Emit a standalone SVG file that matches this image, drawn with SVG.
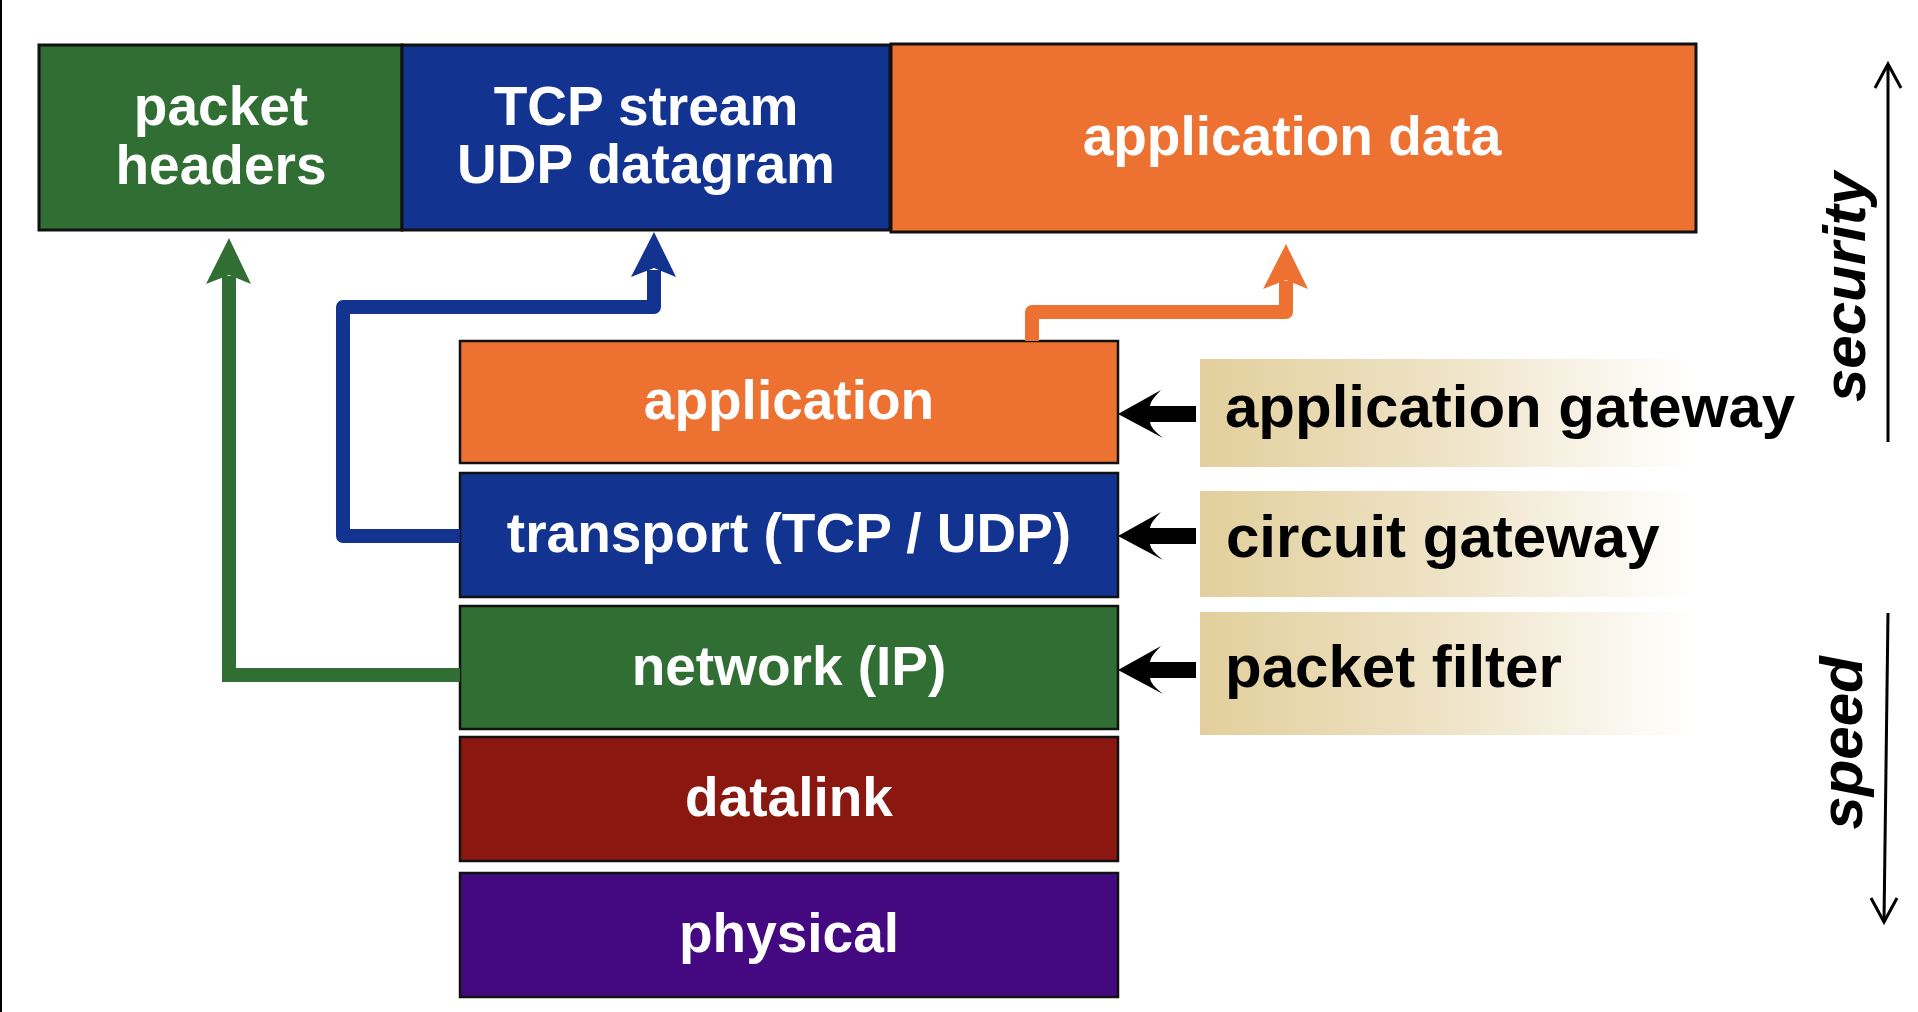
<svg xmlns="http://www.w3.org/2000/svg" width="1918" height="1012" viewBox="0 0 1918 1012">
<defs>
<linearGradient id="tan" x1="0" y1="0" x2="1" y2="0">
<stop offset="0" stop-color="#e2cf9c"/>
<stop offset="0.45" stop-color="#eee2c4"/>
<stop offset="0.95" stop-color="#ffffff"/>
</linearGradient>
<style>
.box{stroke:#111;stroke-width:3}
.layer{stroke:#111;stroke-width:2.5}
.wt{font-family:"Liberation Sans",Arial,sans-serif;font-weight:bold;font-size:55px;fill:#fff;text-anchor:middle}
.bt{font-family:"Liberation Sans",Arial,sans-serif;font-weight:bold;font-size:60px;fill:#000}
.it{font-family:"Liberation Sans",Arial,sans-serif;font-weight:bold;font-style:italic;font-size:60px;fill:#000;text-anchor:middle}
.conn{fill:none;stroke-width:14}
</style>
</defs>
<rect width="1918" height="1012" fill="#fff"/>
<line x1="1" y1="0" x2="1" y2="1012" stroke="#000" stroke-width="2"/>

<g id="packet-headers">
<rect class="box" x="39" y="45" width="363" height="185" fill="#306e34"/>
<text class="wt" x="221" y="125">packet</text>
<text class="wt" x="221" y="184">headers</text>
</g>
<g id="tcp-udp">
<rect class="box" x="402" y="45" width="488" height="185" fill="#133391"/>
<text class="wt" x="646" y="125">TCP stream</text>
<text class="wt" x="646" y="183">UDP datagram</text>
</g>
<g id="application-data">
<rect class="box" x="891" y="44" width="805" height="188" fill="#ed7130"/>
<text class="wt" x="1292" y="155">application data</text>
</g>

<g id="layer-application">
<rect class="layer" x="460" y="341" width="658" height="122" fill="#ed7130"/>
<text class="wt" x="789" y="419">application</text>
</g>
<g id="layer-transport">
<rect class="layer" x="460" y="473" width="658" height="124" fill="#133391"/>
<text class="wt" x="789" y="552">transport (TCP / UDP)</text>
</g>
<g id="layer-network">
<rect class="layer" x="460" y="606" width="658" height="123" fill="#306e34"/>
<text class="wt" x="789" y="685">network (IP)</text>
</g>
<g id="layer-datalink">
<rect class="layer" x="460" y="737" width="658" height="124" fill="#8b1810"/>
<text class="wt" x="789" y="816">datalink</text>
</g>
<g id="layer-physical">
<rect class="layer" x="460" y="873" width="658" height="124" fill="#440880"/>
<text class="wt" x="789" y="952">physical</text>
</g>

<g id="gw-application">
<rect x="1200" y="359" width="520" height="108" fill="url(#tan)"/>
<text class="bt" x="1225" y="427">application gateway</text>
</g>
<g id="gw-circuit">
<rect x="1200" y="491" width="520" height="106" fill="url(#tan)"/>
<text class="bt" x="1226" y="557">circuit gateway</text>
</g>
<g id="gw-packet">
<rect x="1200" y="612" width="520" height="123" fill="url(#tan)"/>
<text class="bt" x="1225" y="687">packet filter</text>
</g>

<g id="axis-security">
<text class="it" transform="translate(1865,287) rotate(-90)">security</text>
<line x1="1888" y1="64" x2="1888" y2="442" stroke="#000" stroke-width="3"/>
<polyline points="1875,88 1888,64 1901,88" fill="none" stroke="#000" stroke-width="3"/>
</g>
<g id="axis-speed">
<text class="it" transform="translate(1862,743) rotate(-90)">speed</text>
<line x1="1888" y1="613" x2="1884" y2="922" stroke="#000" stroke-width="3"/>
<polyline points="1871,898 1884,922 1897,898" fill="none" stroke="#000" stroke-width="3"/>
</g>

<g id="connectors">
<path class="conn" d="M460,675 H229 V276" stroke="#306e34" stroke-linejoin="miter"/>
<polygon points="229,238 251,284 229,275 206,284" fill="#306e34"/>
<path class="conn" d="M460,536 H343 V307 H654 V270" stroke="#133391" stroke-linejoin="round"/>
<polygon points="654,232 676,277 654,268 631,277" fill="#133391"/>
<path class="conn" d="M1032,341 V312 H1286 V281" stroke="#ed7130" stroke-linejoin="round"/>
<polygon points="1286,244 1308,289 1286,280 1263,289" fill="#ed7130"/>
<path d="M1118,414 L1161,390 Q1150,401 1150,406 L1196,406 L1196,422 L1150,422 Q1150,428 1163,438 Z" fill="#000"/>
<path d="M1118,536 L1161,512 Q1150,523 1150,528 L1196,528 L1196,544 L1150,544 Q1150,550 1163,560 Z" fill="#000"/>
<path d="M1118,670 L1161,646 Q1150,657 1150,662 L1196,662 L1196,678 L1150,678 Q1150,684 1163,694 Z" fill="#000"/>
</g>
</svg>
